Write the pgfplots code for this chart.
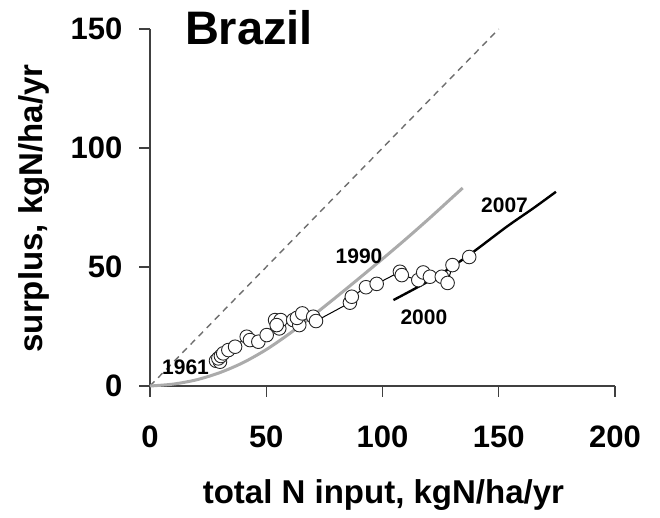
\documentclass[border=0pt]{standalone}
\usepackage{fontspec}
\setmainfont{Liberation Sans}
\usepackage{pgfplots}
\pgfplotsset{compat=1.18}
\definecolor{axisgray}{HTML}{404040}
\definecolor{curvegray}{HTML}{ABABAB}
\definecolor{dashgray}{HTML}{6E6E6E}

\begin{document}
\begin{tikzpicture}
\path[use as bounding box] (-75pt,-66pt) rectangle (255pt,193pt);
\begin{axis}[
  at={(0,0)}, anchor=south west,
  scale only axis, width=232.5pt, height=178.5pt,
  xmin=0, xmax=200, ymin=0, ymax=150,
  axis x line*=bottom, axis y line*=left,
  axis line style={axisgray, line width=0.6pt},
  tick style={axisgray, line width=0.6pt},
  tick align=outside, major tick length=5.3pt,
  xtick={0,50,100,150,200}, ytick={0,50,100,150},
  ticklabel style={font=\fontsize{15.5}{18}\selectfont\bfseries},
  xticklabel style={yshift=-11pt},
  yticklabel style={xshift=-5pt},
  /pgf/number format/assume math mode=true,
  clip=false,
]
% 1:1 reference line
\addplot[dashgray, line width=0.7pt, dash pattern=on 3.2pt off 2.6pt]
  coordinates {(0,0) (150,150)};
% trajectory 1961-1990 (smoothed)
\addplot[curvegray, line width=1.5pt, smooth]
  coordinates {(0,0) (10,0.8) (20,2.6) (30,5.6) (40,9.8) (50,15.3) (60,22.0)
    (70,29.5) (80,37.3) (90,45.3) (100,53.4) (110,61.7) (120,70.3) (130,79.2) (134.5,83.2)};
% trajectory 2000-2007
\addplot[black, line width=1.2pt, smooth]
  coordinates {(104.7,36.1) (121.9,45.2) (136.2,54.3) (153.4,66.9) (164.9,74.7) (174.6,81.6)};
% yearly observations
\addplot[black, line width=0.5pt, mark=*, mark size=3.4pt,
  mark options={fill=white, draw=black!85, line width=0.45pt}]
  coordinates {
    (28.4,10.6) (30.1,10.2) (29.4,11.6) (30.5,12.6) (31.5,13.7) (33.7,15.1)
    (36.6,16.5) (41.6,20.7) (43.0,19.3) (46.6,18.6) (50.2,21.4) (53.8,27.7)
    (55.6,24.2) (56.2,27.7) (54.5,25.6) (61.6,27.7) (64.2,25.6) (63.2,28.6)
    (65.5,30.5) (70.2,29.1) (71.4,27.3) (86.0,35.0) (86.8,37.5) (92.9,41.5)
    (97.5,42.9) (107.5,48.0) (108.3,46.6) (115.4,44.5) (117.5,47.7) (120.4,45.9)
    (125.5,45.9) (128.0,43.3) (130.1,50.8) (137.3,54.2)
  };
% year annotations
\node[font=\fontsize{10.5}{12}\selectfont\bfseries] at (axis cs:15.3,7.8) {1961};
\node[font=\fontsize{10.5}{12}\selectfont\bfseries] at (axis cs:89.9,54.4) {1990};
\node[font=\fontsize{10.5}{12}\selectfont\bfseries] at (axis cs:117.8,29.0) {2000};
\node[font=\fontsize{10.5}{12}\selectfont\bfseries] at (axis cs:152.5,76.1) {2007};
% title and axis labels
\node[font=\fontsize{23.5}{28}\selectfont\bfseries, anchor=base] at (axis cs:42.6,143.3) {Brazil};
\node[font=\fontsize{16.5}{20}\selectfont\bfseries, anchor=base] at (axis cs:100.4,-49.3) {total N input, kgN/ha/yr};
\node[font=\fontsize{16.5}{20}\selectfont\bfseries, rotate=90, anchor=center] at (axis cs:-49.7,74.6) {surplus, kgN/ha/yr};
\end{axis}
\end{tikzpicture}
\end{document}
